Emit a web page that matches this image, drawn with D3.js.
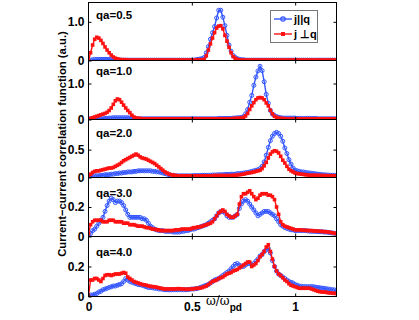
<!DOCTYPE html>
<html><head><meta charset="utf-8">
<script src="https://cdn.jsdelivr.net/npm/d3@7"></script>
<style>body{margin:0;background:#fff}svg{display:block}text{font-family:"Liberation Sans",Arial,sans-serif}</style>
</head><body><svg id="c" width="419" height="320"></svg>
<script>
// ---------- data ----------
const panelLabels = ["qa=0.5","qa=1.0","qa=2.0","qa=3.0","qa=4.0"];
const yMax = [1.5, 1.64, 1.04, 0.4, 0.4];
const yTickVals = [1.0, 1.0, 0.5, 0.2, 0.2];
const yTickLabels = ["1.0","1.0","0.5","0.2","0.2"];
const xTickVals = [0, 0.5, 1];
const xTickLabels = ["0","0.5","1"];
const legendLabels = ["j||q", "j \u22A5q"];
const omega = d3.range(121).map(i => i / 100);   // ω/ω_pd grid, 0 … 1.2

// qa = 0.5
const par05 = [
0,0.01,0.02,0.03,0.03,0.03,0.03,0.03,0.03,0.03,
0.03,0.03,0.02,0.02,0.02,0.01,0.01,0.01,0.01,0.01,
0.01,0.01,0.01,0.01,0.01,0.01,0.01,0.01,0.01,0.01,
0.01,0.01,0.01,0.01,0.01,0.01,0.01,0.01,0.01,0.01,
0.01,0.01,0.01,0.01,0.01,0.01,0.01,0.01,0.01,0.01,
0.01,0.01,0.02,0.03,0.04,0.05,0.08,0.2,0.36,0.55,
0.72,0.88,1.1,1.3,1.3,1.12,0.9,0.65,0.4,0.24,
0.13,0.08,0.05,0.03,0.02,0.02,0.01,0.01,0.01,0.01,
0.01,0.01,0.01,0.01,0.01,0.01,0.01,0.01,0.01,0.01,
0.01,0.01,0.01,0.01,0.01,0.01,0.01,0.01,0.01,0.01,
0.01,0.01,0.01,0.01,0.01,0.01,0.01,0.01,0.01,0.01,
0.01,0.01,0.01,0.01,0.01,0.01,0.01,0.01,0.01,0.01,0.01];
const perp05 = [
0,0.2,0.4,0.55,0.6,0.58,0.52,0.44,0.35,0.27,
0.2,0.14,0.09,0.06,0.04,0.03,0.02,0.02,0.02,0.01,
0.01,0.01,0.01,0.01,0.01,0.01,0.01,0.01,0.01,0.01,
0.01,0.01,0.01,0.01,0.01,0.01,0.01,0.01,0.01,0.01,
0.01,0.01,0.01,0.01,0.01,0.01,0.01,0.01,0.01,0.01,
0.01,0.01,0.01,0.02,0.02,0.02,0.03,0.12,0.27,0.43,
0.58,0.72,0.84,0.89,0.9,0.82,0.65,0.5,0.34,0.2,
0.1,0.06,0.03,0.02,0.01,0.01,0.01,0.01,0.01,0.01,
0.01,0.01,0.01,0.01,0.01,0.01,0.01,0.01,0.01,0.01,
0.01,0.01,0.01,0.01,0.01,0.01,0.01,0.01,0.01,0.01,
0.01,0.01,0.01,0.01,0.01,0.01,0.01,0.01,0.01,0.01,
0.01,0.01,0.01,0.01,0.01,0.01,0.01,0.01,0.01,0.01,0.01];

// qa = 1.0
const par10 = [
0.01,0.02,0.02,0.02,0.02,0.02,0.02,0.02,0.03,0.03,
0.04,0.04,0.05,0.05,0.05,0.05,0.05,0.05,0.05,0.05,
0.04,0.04,0.03,0.02,0.02,0.02,0.02,0.02,0.02,0.02,
0.02,0.02,0.02,0.02,0.02,0.02,0.02,0.02,0.02,0.02,
0.02,0.02,0.02,0.02,0.02,0.02,0.02,0.02,0.02,0.02,
0.02,0.02,0.02,0.02,0.02,0.02,0.02,0.02,0.02,0.02,
0.02,0.02,0.02,0.03,0.03,0.03,0.03,0.03,0.03,0.03,
0.04,0.04,0.05,0.05,0.06,0.08,0.16,0.28,0.48,0.67,
0.95,1.18,1.35,1.48,1.36,1.05,0.7,0.45,0.25,0.15,
0.11,0.08,0.06,0.05,0.04,0.04,0.04,0.04,0.04,0.04,
0.04,0.03,0.03,0.03,0.03,0.03,0.03,0.03,0.03,0.03,
0.03,0.02,0.02,0.02,0.02,0.02,0.02,0.02,0.02,0.02,0.02];
const perp10 = [
0,0.03,0.05,0.07,0.09,0.11,0.13,0.15,0.17,0.2,
0.25,0.32,0.42,0.52,0.57,0.55,0.48,0.4,0.32,0.25,
0.19,0.12,0.07,0.04,0.03,0.03,0.02,0.02,0.02,0.02,
0.02,0.02,0.02,0.02,0.02,0.02,0.02,0.02,0.02,0.02,
0.02,0.02,0.02,0.02,0.02,0.02,0.02,0.02,0.02,0.02,
0.02,0.02,0.02,0.02,0.02,0.02,0.02,0.02,0.02,0.02,
0.02,0.02,0.02,0.02,0.02,0.02,0.02,0.02,0.02,0.02,
0.03,0.03,0.03,0.04,0.04,0.06,0.1,0.17,0.28,0.38,
0.47,0.55,0.6,0.61,0.6,0.55,0.46,0.38,0.26,0.16,
0.09,0.06,0.04,0.03,0.03,0.02,0.02,0.02,0.02,0.02,
0.02,0.02,0.02,0.02,0.02,0.02,0.02,0.02,0.02,0.02,
0.02,0.02,0.02,0.02,0.02,0.02,0.02,0.02,0.02,0.02,0.02];

// qa = 2.0
const par20 = [
0.01,0.02,0.02,0.03,0.03,0.03,0.04,0.04,0.05,0.05,
0.05,0.06,0.06,0.07,0.07,0.08,0.08,0.09,0.09,0.1,
0.1,0.1,0.11,0.11,0.12,0.12,0.12,0.12,0.12,0.12,
0.12,0.11,0.11,0.1,0.1,0.09,0.08,0.07,0.06,0.05,
0.04,0.04,0.03,0.03,0.03,0.03,0.03,0.03,0.03,0.03,
0.03,0.035,0.035,0.035,0.035,0.04,0.04,0.04,0.04,0.04,
0.045,0.045,0.045,0.05,0.05,0.05,0.055,0.055,0.055,0.06,
0.06,0.06,0.07,0.07,0.075,0.08,0.085,0.09,0.1,0.11,
0.12,0.13,0.14,0.16,0.2,0.28,0.4,0.54,0.66,0.74,
0.79,0.81,0.79,0.74,0.65,0.53,0.43,0.32,0.24,0.17,
0.13,0.12,0.11,0.1,0.1,0.09,0.085,0.08,0.075,0.07,
0.065,0.06,0.055,0.05,0.05,0.045,0.045,0.04,0.04,0.04,0.035];
const perp20 = [
0.03,0.06,0.09,0.11,0.12,0.12,0.13,0.14,0.15,0.16,
0.17,0.17,0.18,0.2,0.22,0.24,0.27,0.3,0.32,0.34,
0.36,0.38,0.4,0.42,0.4,0.37,0.35,0.34,0.33,0.31,
0.29,0.27,0.25,0.22,0.19,0.16,0.13,0.1,0.08,0.06,
0.05,0.04,0.04,0.03,0.03,0.03,0.03,0.03,0.03,0.03,
0.03,0.03,0.03,0.03,0.03,0.03,0.03,0.03,0.03,0.03,
0.03,0.035,0.035,0.035,0.035,0.035,0.035,0.035,0.035,0.035,
0.04,0.04,0.045,0.05,0.055,0.06,0.07,0.08,0.085,0.09,
0.1,0.11,0.12,0.13,0.16,0.21,0.27,0.35,0.42,0.46,
0.48,0.47,0.44,0.38,0.31,0.26,0.2,0.15,0.12,0.1,
0.08,0.07,0.065,0.06,0.055,0.05,0.045,0.04,0.04,0.04,
0.04,0.038,0.036,0.035,0.034,0.033,0.032,0.032,0.031,0.03,0.03];

// qa = 3.0
const par30 = [
0,0.02,0.04,0.05,0.07,0.09,0.11,0.13,0.17,0.21,
0.24,0.26,0.25,0.23,0.24,0.24,0.23,0.21,0.18,0.15,
0.13,0.13,0.13,0.13,0.13,0.13,0.12,0.12,0.11,0.09,
0.07,0.06,0.05,0.045,0.04,0.04,0.04,0.035,0.035,0.035,
0.035,0.03,0.03,0.03,0.03,0.035,0.035,0.04,0.04,0.045,
0.05,0.05,0.055,0.06,0.065,0.07,0.075,0.08,0.09,0.1,
0.11,0.12,0.14,0.16,0.17,0.17,0.16,0.14,0.13,0.13,
0.13,0.14,0.15,0.19,0.22,0.24,0.25,0.24,0.22,0.2,
0.18,0.16,0.14,0.15,0.16,0.17,0.17,0.17,0.16,0.15,
0.14,0.12,0.1,0.08,0.07,0.06,0.055,0.05,0.045,0.045,
0.04,0.04,0.04,0.04,0.04,0.04,0.038,0.036,0.035,0.035,
0.034,0.033,0.032,0.032,0.03,0.03,0.028,0.026,0.024,0.022,0.02];
const perp30 = [
0.02,0.08,0.1,0.11,0.11,0.11,0.11,0.1,0.1,0.1,
0.11,0.11,0.11,0.1,0.1,0.1,0.1,0.09,0.09,0.09,
0.08,0.08,0.08,0.075,0.07,0.07,0.07,0.065,0.06,0.06,
0.055,0.05,0.05,0.045,0.045,0.04,0.04,0.04,0.04,0.04,
0.04,0.04,0.045,0.045,0.045,0.05,0.05,0.05,0.05,0.05,
0.055,0.06,0.06,0.065,0.065,0.07,0.075,0.08,0.085,0.09,
0.1,0.12,0.14,0.16,0.17,0.18,0.17,0.15,0.14,0.13,
0.13,0.14,0.15,0.22,0.27,0.29,0.29,0.3,0.31,0.29,
0.27,0.25,0.26,0.28,0.29,0.29,0.29,0.28,0.28,0.27,
0.25,0.2,0.15,0.1,0.08,0.07,0.065,0.06,0.055,0.05,
0.045,0.045,0.045,0.044,0.042,0.042,0.04,0.04,0.04,0.038,
0.037,0.036,0.035,0.034,0.033,0.032,0.03,0.028,0.025,0.022,0.02];

// qa = 4.0
const par40 = [
0,0.01,0.01,0.015,0.02,0.03,0.035,0.045,0.05,0.055,
0.06,0.065,0.07,0.07,0.075,0.08,0.085,0.1,0.12,0.11,
0.1,0.095,0.09,0.085,0.08,0.078,0.075,0.07,0.065,0.06,
0.06,0.058,0.055,0.055,0.05,0.05,0.048,0.045,0.045,0.044,
0.044,0.045,0.045,0.045,0.046,0.046,0.045,0.045,0.046,0.048,
0.05,0.05,0.052,0.055,0.06,0.065,0.07,0.075,0.08,0.09,
0.1,0.11,0.115,0.12,0.13,0.14,0.15,0.16,0.17,0.185,
0.2,0.215,0.22,0.21,0.2,0.2,0.21,0.22,0.22,0.21,
0.22,0.235,0.25,0.27,0.28,0.3,0.31,0.32,0.29,0.24,
0.2,0.17,0.15,0.14,0.13,0.12,0.11,0.1,0.095,0.09,
0.08,0.075,0.07,0.068,0.066,0.066,0.065,0.066,0.066,0.065,
0.062,0.06,0.058,0.056,0.055,0.052,0.05,0.048,0.045,0.044,0.04];
const perp40 = [
0,0.11,0.11,0.12,0.12,0.11,0.1,0.12,0.14,0.145,
0.145,0.14,0.145,0.15,0.15,0.15,0.155,0.16,0.155,0.13,
0.12,0.11,0.1,0.095,0.09,0.085,0.08,0.078,0.075,0.07,
0.068,0.066,0.064,0.062,0.058,0.055,0.052,0.05,0.05,0.05,
0.05,0.05,0.05,0.052,0.052,0.05,0.05,0.048,0.048,0.05,
0.05,0.052,0.054,0.055,0.056,0.06,0.065,0.07,0.08,0.09,
0.1,0.105,0.11,0.12,0.125,0.13,0.14,0.15,0.155,0.16,
0.17,0.175,0.18,0.19,0.2,0.21,0.22,0.23,0.23,0.2,
0.21,0.22,0.24,0.265,0.28,0.3,0.33,0.345,0.3,0.25,
0.2,0.17,0.15,0.14,0.125,0.11,0.1,0.085,0.075,0.07,
0.065,0.06,0.055,0.055,0.055,0.055,0.055,0.055,0.05,0.045,
0.04,0.035,0.032,0.03,0.03,0.028,0.025,0.024,0.022,0.021,0.02];

const parallel = [par05, par10, par20, par30, par40];
const perpendicular = [perp05, perp10, perp20, perp30, perp40];

// ---------- layout ----------
const edges = [2.5, 60.5, 119.5, 177.5, 236.5, 296.5];
const left = 88.5, right = 336.5;
const blue = "#3355ff", red = "#ff1111";
const svg = d3.select("#c");
const x = d3.scaleLinear().domain([0, 1.2]).range([left, right]);
const font = '"Liberation Sans", Arial, sans-serif';

const defs = svg.append("defs");

panelLabels.forEach((lab, k) => {
  const top = edges[k], bot = edges[k + 1];
  const y = d3.scaleLinear().domain([0, yMax[k]]).range([bot, top]);
  const g = svg.append("g");

  defs.append("clipPath").attr("id", "cp" + k)
    .append("rect").attr("x", left).attr("y", top).attr("width", right - left).attr("height", bot - top);

  const plot = g.append("g").attr("clip-path", `url(#cp${k})`);
  const line = d3.line().x((d, i) => x(omega[i])).y(d => y(d));

  // parallel (blue, circles)
  plot.append("path").datum(parallel[k]).attr("d", line)
    .attr("fill", "none").attr("stroke", blue).attr("stroke-width", 1.4);
  plot.append("g").selectAll("circle").data(parallel[k]).join("circle")
    .attr("cx", (d, i) => x(omega[i])).attr("cy", d => y(d)).attr("r", 2)
    .attr("fill", "none").attr("stroke", blue).attr("stroke-width", 1);

  // perpendicular (red, squares)
  plot.append("path").datum(perpendicular[k]).attr("d", line)
    .attr("fill", "none").attr("stroke", red).attr("stroke-width", 1.4);
  plot.append("g").selectAll("rect").data(perpendicular[k]).join("rect")
    .attr("x", (d, i) => x(omega[i]) - 1.8).attr("y", d => y(d) - 1.8)
    .attr("width", 3.6).attr("height", 3.6).attr("fill", red);

  // axes (inward ticks, box)
  const yl = g.append("g").attr("transform", `translate(${left},0)`)
    .call(d3.axisLeft(y).tickValues([0, yTickVals[k]]).tickSize(-3).tickPadding(4)
      .tickFormat((d, i) => i === 0 ? "0" : yTickLabels[k]));
  const yr = g.append("g").attr("transform", `translate(${right},0)`)
    .call(d3.axisRight(y).tickValues([yTickVals[k]]).tickSize(-3).tickFormat(""));
  const xt = g.append("g").attr("transform", `translate(0,${top})`)
    .call(d3.axisTop(x).tickValues([0.5, 1]).tickSize(-3).tickFormat(""));
  const xb = g.append("g").attr("transform", `translate(0,${bot})`)
    .call(d3.axisBottom(x).tickValues(k === 4 ? xTickVals : [0.5, 1]).tickSize(-3).tickPadding(6)
      .tickFormat((d, i) => k === 4 ? xTickLabels[i] : ""));
  [yl, yr, xt, xb].forEach(a => {
    a.select(".domain").remove();
    a.selectAll("line").attr("stroke", "#000");
    a.selectAll("text").attr("fill", "#000").style("font-family", font)
      .style("font-size", "12px").style("font-weight", "bold");
  });
  g.append("rect").attr("x", left).attr("y", top).attr("width", right - left).attr("height", bot - top)
    .attr("fill", "none").attr("stroke", "#000").attr("stroke-width", 1);
});

// panel labels
const labelY = [19, 75, 137, 197, 256];
panelLabels.forEach((lab, k) => {
  svg.append("text").attr("x", 96).attr("y", labelY[k]).text(lab)
    .style("font-size", "11.5px").style("font-weight", "bold").attr("fill", "#000");
});

// y label
svg.append("text").attr("transform", "translate(66,144) rotate(-90)")
  .attr("text-anchor", "middle").text("Current\u2212current correlation function (a.u.)")
  .style("font-size", "11.3px").style("font-weight", "bold").attr("fill", "#000");

// x label
const xl = svg.append("text").attr("x", 206).attr("y", 305).attr("fill", "#000");
xl.append("tspan").text("\u03C9/\u03C9").style("font-size", "12px").style("font-family", "DejaVu Serif, serif");
xl.append("tspan").text("pd").attr("dy", 6).style("font-size", "10px").style("font-weight", "bold");

// legend
const lg = svg.append("g");
lg.append("rect").attr("x", 270.5).attr("y", 10.5).attr("width", 47).attr("height", 32)
  .attr("fill", "#fff").attr("stroke", "#777").attr("stroke-width", 1);
const legendColors = [blue, red];
legendLabels.forEach((lab, i) => {
  const yy = 19 + i * 15;
  lg.append("line").attr("x1", 274).attr("x2", 292).attr("y1", yy).attr("y2", yy)
    .attr("stroke", legendColors[i]).attr("stroke-width", 1.4);
  if (i === 0) {
    lg.append("circle").attr("cx", 283).attr("cy", yy).attr("r", 2.2)
      .attr("fill", "none").attr("stroke", blue).attr("stroke-width", 1.2);
  } else {
    lg.append("rect").attr("x", 281).attr("y", yy - 2).attr("width", 4).attr("height", 4).attr("fill", red);
  }
  lg.append("text").attr("x", 294).attr("y", yy + 4).text(lab)
    .style("font-size", "11px").style("font-weight", "bold").attr("fill", "#000");
});
</script></body></html>
